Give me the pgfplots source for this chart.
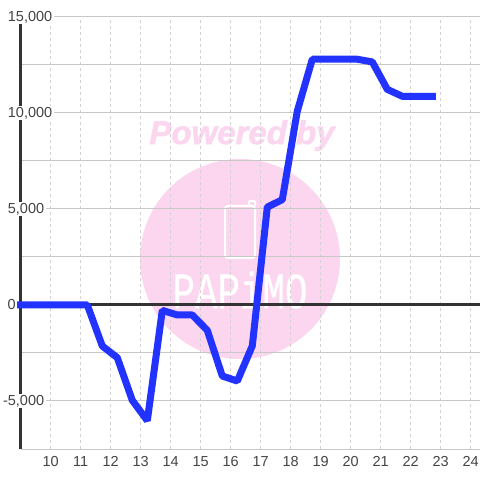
\documentclass[border=0pt]{standalone}
\usepackage{fontspec}
\setmainfont{Liberation Sans}
\newfontfamily\logofont{Liberation Mono}[FakeBold=0.6]
\newfontfamily\wmfont{Liberation Sans}[FakeBold=1.5]
\usepackage{pgfplots}
\pgfplotsset{compat=1.18}
\definecolor{txt}{HTML}{444444}
\definecolor{pinkwm}{HTML}{FBD6EE}
\definecolor{gridc}{HTML}{C8C8C8}
\definecolor{gridv}{HTML}{D2D2D2}
\definecolor{spine}{HTML}{333333}
\definecolor{blueline}{HTML}{2233FF}
\newcommand{\lab}[1]{{\setlength{\fboxsep}{1.5pt}\colorbox{white}{#1}}}
\begin{document}
\begin{tikzpicture}
\path[use as bounding box] (0,0) rectangle (480pt,480pt);
% watermark goes under the grid
\fill[pinkwm] (240pt,221pt) circle (100pt);
\node[pinkwm,font=\wmfont\fontsize{33}{33}\selectfont\bfseries\itshape] at (242pt,344.5pt) {Powered by};
\draw[white,line width=2pt,rounded corners=3pt] (225pt,222pt) rectangle (255pt,274pt);
\draw[white,line width=2pt,rounded corners=1pt] (249pt,274pt) -- (249pt,279pt) -- (255pt,279pt) -- (255pt,274pt);
\node[white,font=\logofont\fontsize{30}{30}\selectfont,xscale=1.25,yscale=1.7] at (240pt,190pt) {PAPiMO};
\begin{axis}[
    at={(20.7pt,31pt)}, anchor=south west,
    scale only axis,
    width=459.3pt, height=432pt,
    xmin=9, xmax=24.31,
    ymin=-7500, ymax=15000,
    clip=false,
    scaled y ticks=false,
    axis x line*=bottom,
    axis y line*=left,
    x axis line style={draw=gridc,line width=1pt,-},
    y axis line style={draw=spine,line width=3pt,-},
    tick style={draw=none},
    major tick length=0pt, minor tick length=0pt,
    xtick={10,...,24},
    ytick={-5000,0,5000,10000,15000},
    yticklabels={\lab{\llap{-}5,000},\hspace{1.3pt}0,\lab{5,000},\lab{10,000},\lab{15,000}},
    minor ytick={-7500,-2500,2500,7500,12500},
    xmajorgrids=true,
    ymajorgrids=true,
    yminorgrids=true,
    x grid style={draw=gridv,line width=1pt,dash pattern=on 3pt off 3pt},
    y grid style={draw=gridc,line width=1pt},
    minor y grid style={draw=gridc,line width=1pt},
    tick label style={font=\fontsize{14.5}{14.5}\selectfont,text=txt},
    /pgf/number format/assume math mode=true,
    xticklabel style={anchor=north,yshift=-4pt},
    yticklabel style={anchor=west,xshift=-14.5pt,inner sep=0pt},
]
\addplot[spine,line width=3pt] coordinates {(9,0) (24.31,0)};
\addplot[blueline,line width=7pt,line cap=rect,line join=bevel] coordinates {
    (9,0) (11.22,0) (11.72,-2135) (12.22,-2745) (12.72,-4965) (13.22,-6025)
    (13.72,-280) (14.22,-520) (14.72,-520) (15.22,-1320) (15.72,-3700)
    (16.22,-3960) (16.72,-2130) (17.22,5100) (17.72,5485) (18.22,10100)
    (18.72,12800) (19.22,12800) (19.72,12800) (20.22,12800) (20.72,12660)
    (21.22,11230) (21.72,10870) (22.22,10870) (22.72,10870)
};
\end{axis}
\end{tikzpicture}
\end{document}
